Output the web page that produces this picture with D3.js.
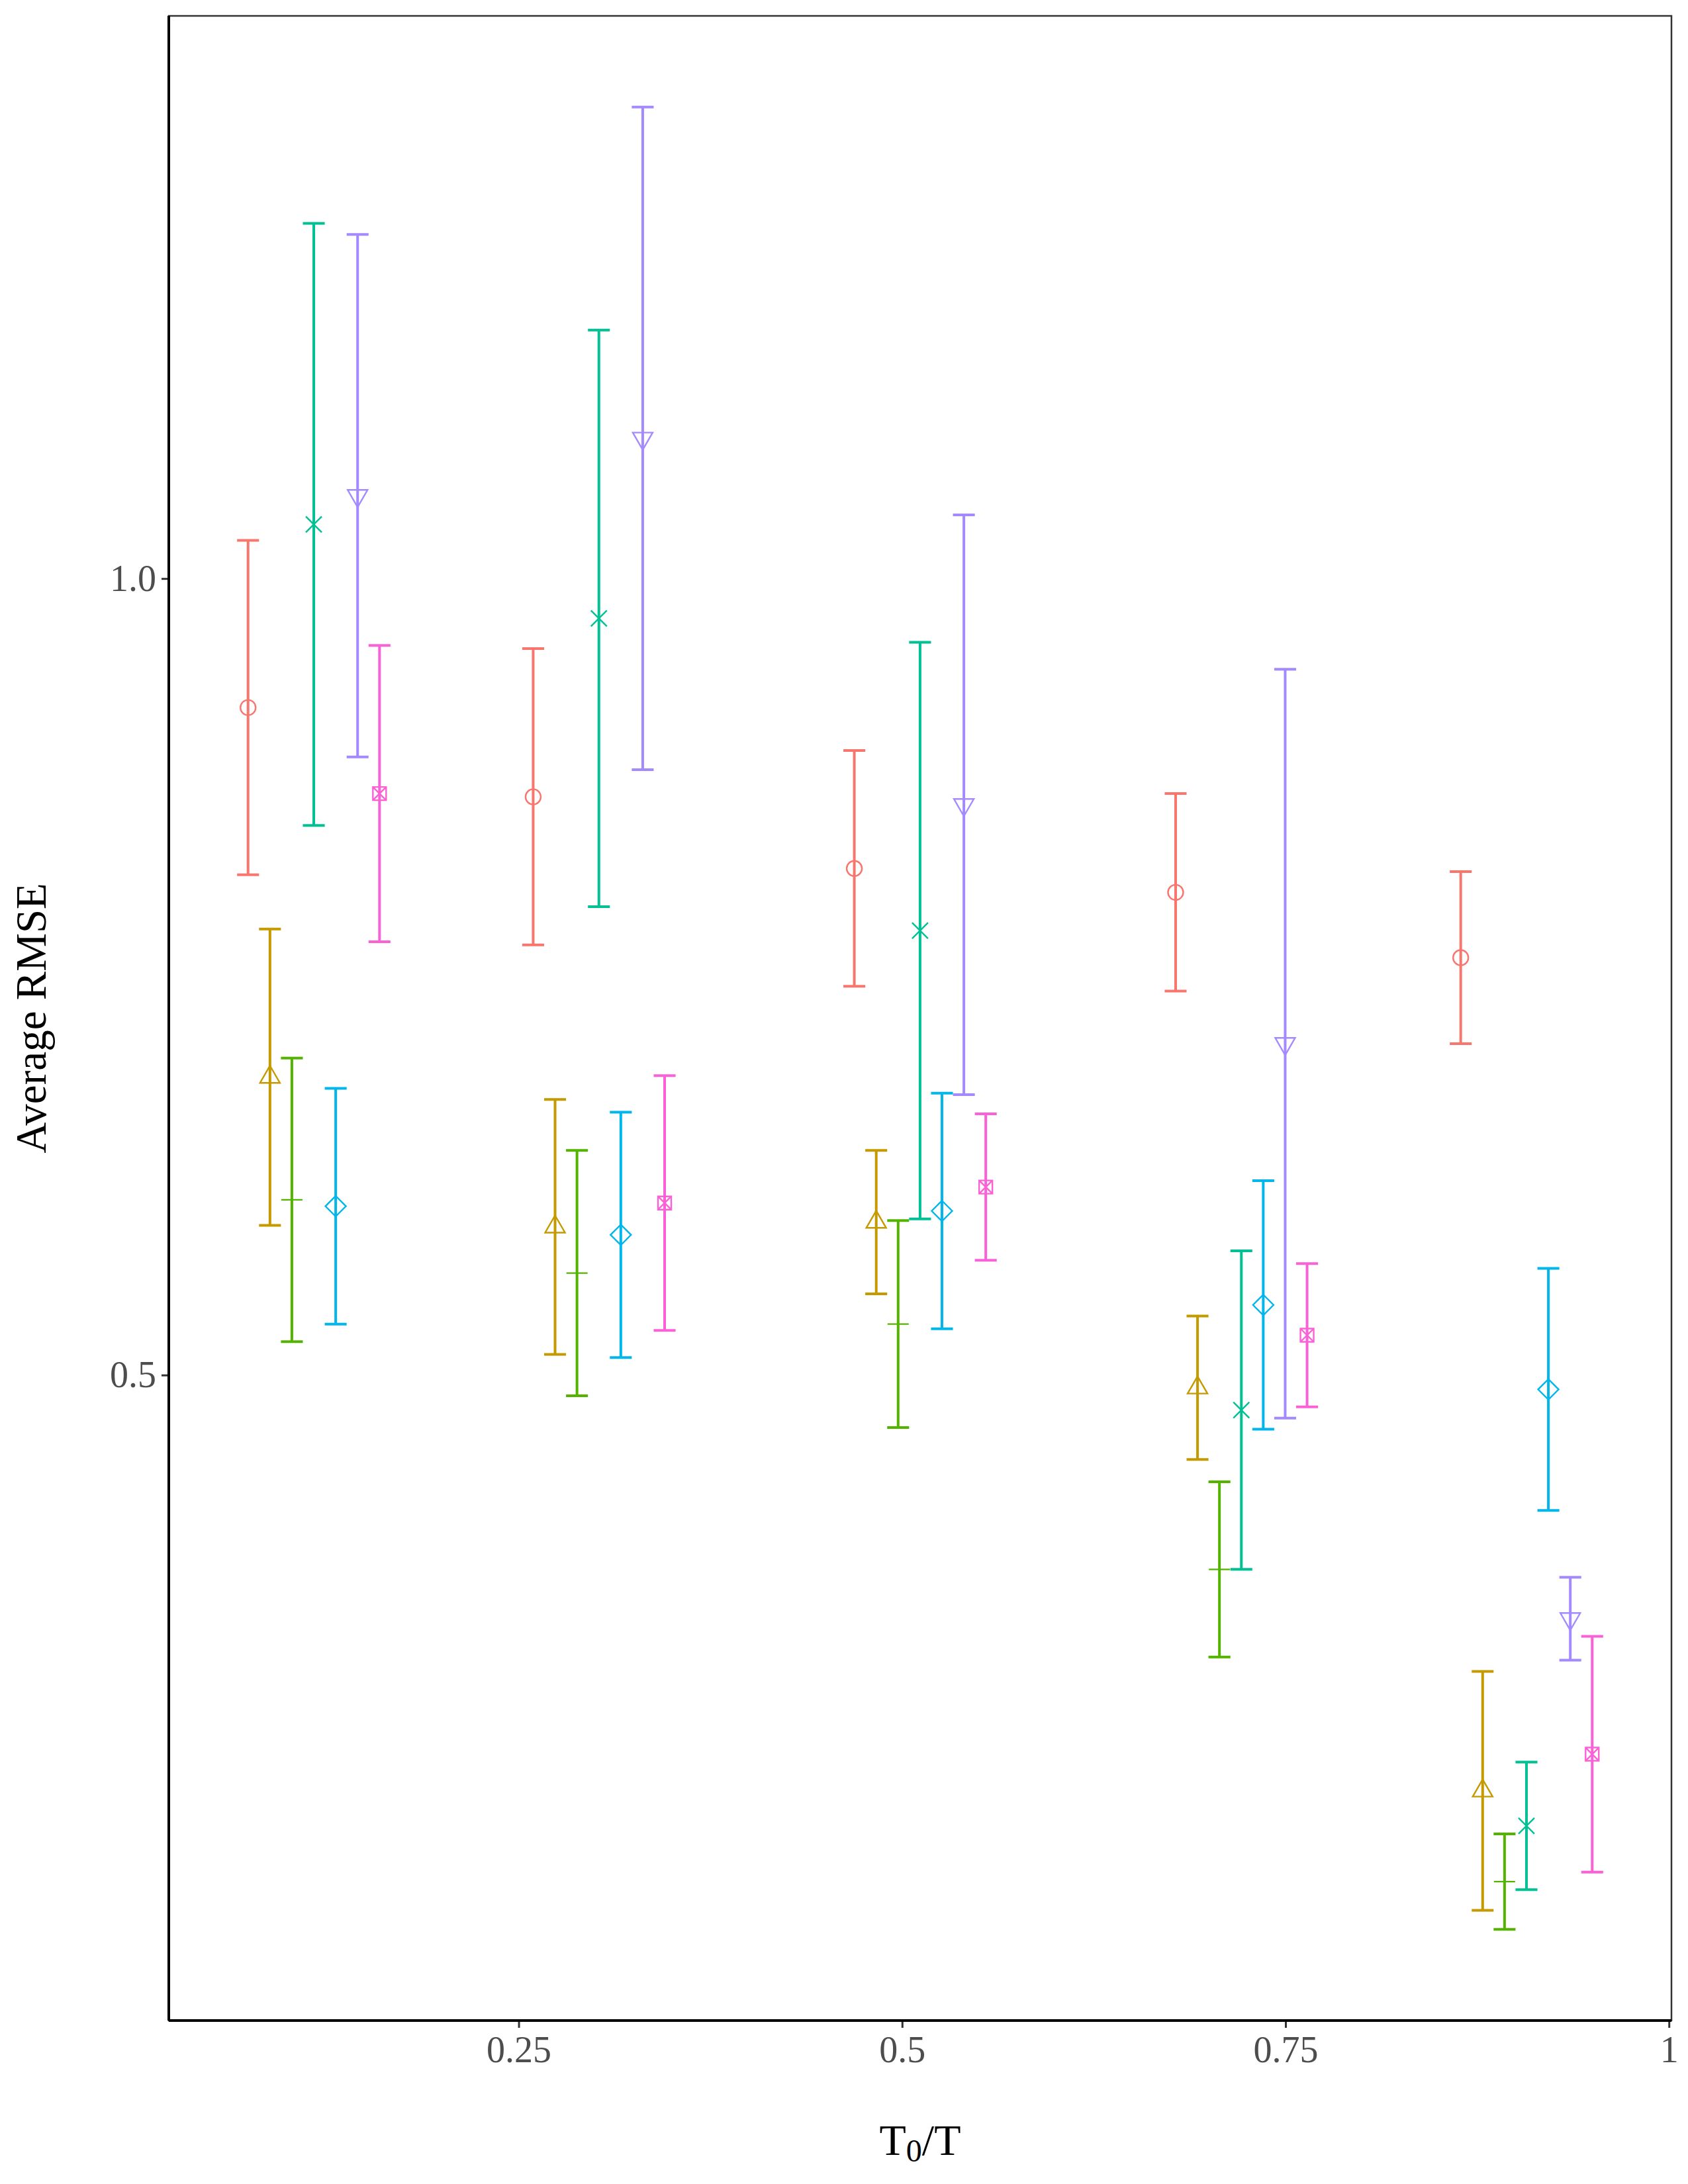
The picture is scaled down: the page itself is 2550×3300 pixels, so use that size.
<!DOCTYPE html>
<html>
<head>
<meta charset="utf-8">
<script src="https://cdn.jsdelivr.net/npm/d3@7"></script>
<style>
  body { margin: 0; background: #ffffff; }
</style>
</head>
<body>
<div id="chart"></div>
<script>
// T0/T values of the five groups
const ratios = [0.1164, 0.3023, 0.5117, 0.7212, 0.9071];

const methods = ["M1", "M2", "M3", "M4", "M5", "M6", "M7"];
const colors = ["#F8766D", "#C49A00", "#53B400", "#00C094", "#00B6EB", "#A58AFF", "#FB61D7"];
const shapes = ["circle", "triangle", "plus", "cross", "diamond", "triangleDown", "squareCross"];

// average RMSE and half-width of the error bar, one array per method
const m1Mean = [0.919, 0.863, 0.818, 0.803, 0.762];
const m1Err  = [0.105, 0.093, 0.074, 0.062, 0.054];
const m2Mean = [0.687, 0.593, 0.596, 0.492, 0.239];
const m2Err  = [0.093, 0.080, 0.045, 0.045, 0.075];
const m3Mean = [0.610, 0.564, 0.532, 0.378, 0.182];
const m3Err  = [0.089, 0.077, 0.065, 0.055, 0.030];
const m4Mean = [1.034, 0.975, 0.779, 0.478, 0.217];
const m4Err  = [0.189, 0.181, 0.181, 0.100, 0.040];
const m5Mean = [0.606, 0.588, 0.603, 0.544, 0.491];
const m5Err  = [0.074, 0.077, 0.074, 0.078, 0.076];
const m6Mean = [1.052, 1.088, 0.858, 0.708, 0.347];
const m6Err  = [0.164, 0.208, 0.182, 0.235, 0.026];
const m7Mean = [0.865, 0.608, 0.618, 0.525, 0.262];
const m7Err  = [0.093, 0.080, 0.046, 0.045, 0.074];

const xTicks = [0.25, 0.5, 0.75, 1];
const xTickLabels = ["0.25", "0.5", "0.75", "1"];
const yTicks = [0.5, 1.0];
const yTickLabels = ["0.5", "1.0"];

const means = [m1Mean, m2Mean, m3Mean, m4Mean, m5Mean, m6Mean, m7Mean];
const errs = [m1Err, m2Err, m3Err, m4Err, m5Err, m6Err, m7Err];

const rows = [];
methods.forEach((m, i) => {
  ratios.forEach((r, j) => {
    rows.push({ method: m, idx: i, ratio: r, mean: means[i][j], err: errs[i][j] });
  });
});

const width = 2550, height = 3300;
const margin = { left: 255, right: 25, top: 24, bottom: 247 };
const font = "'Liberation Serif', 'Times New Roman', serif";

// dodge, like position_dodge(width = 0.1)
const dodge = d3.scaleBand().domain(methods).range([-0.05, 0.05]);
const capW = dodge.bandwidth();
const xpos = d => d.ratio + dodge(d.method) + capW / 2;

function expand(lo, hi) {
  const pad = (hi - lo) * 0.05;
  return [lo - pad, hi + pad];
}

const x = d3.scaleLinear()
  .domain(expand(d3.min(rows, d => xpos(d) - capW / 2), d3.max(rows, d => xpos(d) + capW / 2)))
  .range([margin.left, width - margin.right]);

const y = d3.scaleLinear()
  .domain(expand(d3.min(rows, d => d.mean - d.err), d3.max(rows, d => d.mean + d.err)))
  .range([height - margin.bottom, margin.top]);

const svg = d3.select("#chart")
  .append("svg")
  .attr("width", width)
  .attr("height", height)
  .style("background", "#ffffff");

// panel border (theme_bw look)
svg.append("rect")
  .attr("x", margin.left)
  .attr("y", margin.top)
  .attr("width", width - margin.left - margin.right)
  .attr("height", height - margin.top - margin.bottom)
  .attr("fill", "none")
  .attr("stroke", "#333333")
  .attr("stroke-width", 2.5);

// axes
const xAxis = svg.append("g")
  .attr("transform", `translate(0, ${height - margin.bottom})`)
  .call(d3.axisBottom(x).tickValues(xTicks).tickFormat((d, i) => xTickLabels[i]).tickSize(11).tickPadding(12));

const yAxis = svg.append("g")
  .attr("transform", `translate(${margin.left}, 0)`)
  .call(d3.axisLeft(y).tickValues(yTicks).tickFormat((d, i) => yTickLabels[i]).tickSize(11).tickPadding(8));

[xAxis, yAxis].forEach(g => {
  g.select(".domain").remove();
  g.selectAll(".tick line").attr("stroke", "#333333").attr("stroke-width", 3);
  g.selectAll(".tick text")
    .attr("fill", "#4D4D4D")
    .style("font-family", font)
    .style("font-size", "56px");
});

// axis lines
svg.append("line")
  .attr("x1", margin.left).attr("x2", margin.left)
  .attr("y1", margin.top).attr("y2", height - margin.bottom)
  .attr("stroke", "#000000").attr("stroke-width", 4);
svg.append("line")
  .attr("x1", margin.left).attr("x2", width - margin.right)
  .attr("y1", height - margin.bottom).attr("y2", height - margin.bottom)
  .attr("stroke", "#000000").attr("stroke-width", 4);

// error bars
const bars = svg.append("g").selectAll("g")
  .data(rows)
  .enter()
  .append("g")
  .attr("stroke", d => colors[d.idx])
  .attr("stroke-width", 4)
  .attr("fill", "none");

bars.append("line")
  .attr("x1", d => x(xpos(d))).attr("x2", d => x(xpos(d)))
  .attr("y1", d => y(d.mean + d.err)).attr("y2", d => y(d.mean - d.err));
bars.append("line")
  .attr("x1", d => x(xpos(d) - capW / 2)).attr("x2", d => x(xpos(d) + capW / 2))
  .attr("y1", d => y(d.mean + d.err)).attr("y2", d => y(d.mean + d.err));
bars.append("line")
  .attr("x1", d => x(xpos(d) - capW / 2)).attr("x2", d => x(xpos(d) + capW / 2))
  .attr("y1", d => y(d.mean - d.err)).attr("y2", d => y(d.mean - d.err));

// point shapes (R pch 1..7)
function shapePath(name) {
  switch (name) {
    case "circle":
      return "M11.5,0A11.5,11.5 0 1 1 -11.5,0A11.5,11.5 0 1 1 11.5,0Z";
    case "triangle":
      return "M0,-17.3L15,8.7L-15,8.7Z";
    case "triangleDown":
      return "M0,17.3L15,-8.7L-15,-8.7Z";
    case "plus":
      return "M-16,0L16,0M0,-16L0,16";
    case "cross":
      return "M-12,-12L12,12M-12,12L12,-12";
    case "diamond":
      return "M0,-15.5L15.5,0L0,15.5L-15.5,0Z";
    case "squareCross":
      return "M-10,-10L10,-10L10,10L-10,10ZM-10,-10L10,10M-10,10L10,-10";
  }
}

svg.append("g").selectAll("path")
  .data(rows)
  .enter()
  .append("path")
  .attr("transform", d => `translate(${x(xpos(d))}, ${y(d.mean)})`)
  .attr("d", d => shapePath(shapes[d.idx]))
  .attr("fill", "none")
  .attr("stroke", d => colors[d.idx])
  .attr("stroke-width", 2.4);

// axis titles
svg.append("text")
  .attr("transform", `translate(69, ${(margin.top + height - margin.bottom) / 2}) rotate(-90)`)
  .attr("text-anchor", "middle")
  .style("font-family", font)
  .style("font-size", "65px")
  .attr("fill", "#000000")
  .text("Average RMSE");

const xTitle = svg.append("text")
  .attr("x", (margin.left + width - margin.right) / 2)
  .attr("y", 3256)
  .attr("text-anchor", "middle")
  .style("font-family", font)
  .style("font-size", "66px")
  .attr("fill", "#000000");
xTitle.append("tspan").text("T");
xTitle.append("tspan").attr("dy", 10).style("font-size", "48px").text("0");
xTitle.append("tspan").attr("dy", -10).text("/T");
</script>
</body>
</html>
